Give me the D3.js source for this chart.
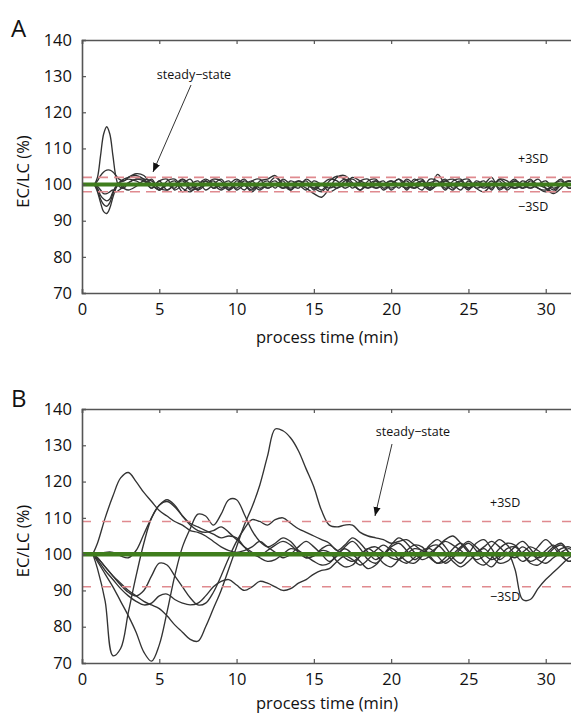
<!DOCTYPE html>
<html><head><meta charset="utf-8">
<script src="https://cdn.jsdelivr.net/npm/d3@7/dist/d3.min.js"></script>
<style>body{margin:0;background:#fff}svg{display:block}text{font-family:"Open Sans",sans-serif;fill:#111}</style>
</head><body>
<svg id="c" width="571" height="713"></svg>
<script>
// ---------- data ----------
const xTicks = [0,5,10,15,20,25,30];
const yTicks = [70,80,90,100,110,120,130,140];
const target = 100;
const sdA = [98, 102];
const sdB = [91, 109];

const tA = [0.8,1.0,1.2,1.4,1.6,1.8,2.0,2.2,2.4,2.7,3.0,3.5,
  4,4.5,5,5.5,6,6.5,7,7.5,8,8.5,
  9,9.5,10,10.5,11,11.5,12,12.5,13,13.5,
  14,14.5,15,15.5,16,16.5,17,17.5,18,18.5,
  19,19.5,20,20.5,21,21.5,22,22.5,23,23.5,
  24,24.5,25,25.5,26,26.5,27,27.5,28,28.5,
  29,29.5,30,30.5,31,31.5,32];
const seriesA1 = [100,102,108,114,116,114,108,102,99.5,99,100.5,101.5,
  101,99,101,98.5,100,101.5,99,100,101,99,
  100,101,98.5,100,101,99,100,102,100,99,
  100,101,98.5,100,101.5,101,99,100,100.5,99,
  101,100,99,100,101,99,100,100.5,101,99,
  100,101,99,100.5,99.5,101,99,100,101,100,
  99,100,101,99,100,101,100];
const seriesA2 = [100,101,102.5,103.5,104,104,103.5,102.5,101.5,101,102,103,
  102.5,100,98.5,101,101.5,99,98,100,101.5,100,
  98.5,100,101.5,100,98.5,101,101.5,102.5,100,98.5,
  100,99,97.5,96.5,99,102,102.5,100.5,98.5,101,
  101.5,99,100,101.5,98.5,101,101.5,99,102.8,100,
  98.5,101,101.5,99,100,102,98.5,100,101.5,99,
  100,101.5,99,97.5,99,101,100];
const seriesA3 = [100,98,95,92.5,92,93.5,96.5,99,100.5,101.5,102,102.5,
  101.5,99,101,101.5,98.5,100,101.5,98.5,100,101.5,
  101,98.5,100,101.5,99,100,101,99,101.5,100,
  99,101.5,100,98.5,101,102.3,101.5,99,101,101.5,
  99,100,101,99,101.5,100,98.5,101.5,101,98.5,
  101,101.5,99,100,101,98.5,101.5,101,99,100,
  101.5,99,98.5,100,101.5,99,100];
const seriesA4 = [100,98.5,96,94.5,94,95,97.5,99.5,100.5,101,101.5,101,
  100,101.5,98.5,100,101,98,100,101,98.5,100,
  101.5,99,100,98.5,101,101.5,99,100,99,101,
  100,98.5,101,100,99,100,101.5,100,98.5,100,
  101,98.5,100,101.5,100,99,101,99,100,101.5,
  99,100,98.5,101,100,99,101.5,100,99,101,
  100,99,98,100,101,99,100];
const seriesA5 = [100,99,97,96,95.5,96,98,99.5,100,99,98.5,99.5,
  101,100,98.5,100,99,101.5,100,98.5,101,99,
  100,98.5,101,100,98,100,99,100,101,98.5,
  101,100,99,98,100,99,101,101.5,100,99,
  100,101,98.5,100,99,101.5,100,98.5,100,101,
  100,98.5,101,99,98,100,101,98.5,100,99,
  101,100,99,98,100,101,100];
const seriesA6 = [100,99.5,98.5,97.5,97.5,98,98.5,98,98.5,99.5,100.5,101.5,
  101.5,101,99,98.5,100,101,98.5,99,100,101,
  99,100,99,101,100,98.5,100,101,99,100,
  101,100,99,100,98,99,100,102,101,100,
  99,100,101,100,99,100,101,98.5,100,101,
  101.5,100,99,100,99,100,100,99,101,100,
  99,100,100,98.5,100,100,100];

const tB = [0.7,
  1,1.5,2,2.5,3,3.5,4,4.5,5,5.5,
  6,6.5,7,7.5,8,8.5,9,9.5,10,10.5,
  11,11.5,12,12.5,13,13.5,14,14.5,15,15.5,
  16,16.5,17,17.5,18,18.5,19,19.5,20,20.5,
  21,21.5,22,22.5,23,23.5,24,24.5,25,25.5,
  26,26.5,27,27.5,28,28.5,29,29.5,30,30.5,
  31,31.5,32];
const seriesB1 = [100,
  103,110,116,121,122.5,120,117,114.5,112,110.5,
  109,108,106.5,106,105,103.5,102,101,100.5,101,
  102,103.5,102,100.5,99,100,102,103.5,102,100,
  98,99.5,102,103.5,101.5,98.5,97.5,99.5,102,103,
  101,98.5,100,102.5,104,102,99,97.5,100,103,
  104,101.5,98.5,100,102,103.5,101.5,99,100,102,
  103,100.5,99];
const seriesB2 = [100,
  99,96.5,94,92,90,88.5,87,86,85,83,
  80.5,78.5,76.5,76,80,85,90,96,102,108,
  113,119,127,134.5,134,132,128.5,123.5,118.5,112,
  108,107.5,108,108,106,105,104.5,104,103,103.5,
  104,102.5,101,100.5,102,103.5,102.5,101,99.5,100.5,
  102,103.5,102,100,99,100.5,102,101,99.5,100,
  101.5,102,100.5];
const seriesB3 = [100,
  96,87,72,74,84,94,103,110,113.5,114.5,
  113,110.5,108,106.5,106,106.5,107.5,106,104,102,
  100.5,99,98,98.5,100,101.5,101,99.5,98,97,
  97.5,100,101.5,100,98,96,97,99.5,101.5,100,
  98,97.5,99.5,102,102.5,100.5,98,96.5,98,100,
  101.5,99.5,97.5,98,100,102,100.5,98.5,97.5,99,
  100.5,101.5,100];
const seriesB4 = [100,
  98,94.5,91,87,83,78.5,73,70.5,75,84,
  94,102,107,111,110.5,108,111,115,115,111,
  106.5,103.5,102,103,104.5,103.5,101,99,99.5,101.5,
  102.5,101,99,98,99.5,101.5,102,100.5,99,98.5,
  100,101.5,101,99,97.5,98,100,102,103.5,102,
  100,98.5,99.5,100.5,96,87.5,87.5,90.5,93,95,
  97,99,100];
const seriesB5 = [100,
  98.5,95.5,93,90.5,88.5,87,86,86.5,88.5,89,
  87.5,86.5,86,86.5,88.5,91,92.5,93,91.5,90,
  91,92.5,92,91,90,90.5,92,93,94.5,95.5,
  96,98,99.5,98.5,97,98.5,101,102.5,101,98.5,
  97.5,99,101,101.5,99.5,97.5,99,101.5,103,101,
  98,96.5,99,101.5,102,100,98,99,101,102.5,
  100,98,99];
const seriesB6 = [100,
  99,96.5,94,91.5,89.5,88.5,90,94,97.5,97,
  94,91,88,86,86.5,89.5,94,99,103.5,107,
  109.5,109,108,109.5,110,108.5,107,106,105,104,
  103,101,102.5,104.5,103,100.5,98.5,100,102.5,104.5,
  103,100.5,98.5,99.5,102,104,105,103,100.5,98.5,
  99.5,102,104,102.5,100,98,99.5,102,104,102,
  99.5,98,99.5];
const seriesB7 = [100,
  100,100.5,100.5,99.5,99,101,105.5,110,113.5,115,
  113.5,110.5,108.5,107.5,106.5,105.5,104.5,105,104.5,102,
  100,99.5,101,102.5,103.5,102.5,100.5,99,99.5,101,
  100.5,98,96.5,97,99.5,101.5,100,97.5,96.5,98.5,
  101,102.5,102,99.5,97.5,99,101.5,103,101,98,
  97,99,101.5,103,102.5,100,97.5,97,99,101.5,
  102.5,100.5,99];

const panelsData = [
  {label:"A", t:tA, series:[seriesA1,seriesA2,seriesA3,seriesA4,seriesA5,seriesA6], sd:sdA},
  {label:"B", t:tB, series:[seriesB1,seriesB2,seriesB3,seriesB4,seriesB5,seriesB6,seriesB7], sd:sdB}
];

// ---------- layout ----------
const layout = [
  {top:40, bottom:293, dash:"10,6", green:4,
   ss:{tx:194, ty:79, x1:191, y1:85, x2:153, y2:172},
   plus:{x:518, y:163}, minus:{x:518, y:211}, labelY:37, titleY:343},
  {top:409, bottom:663, dash:"9,11", green:4.5,
   ss:{tx:413, ty:436, x1:392, y1:444, x2:375, y2:516},
   plus:{x:490, y:507}, minus:{x:490, y:601}, labelY:407, titleY:709}
];
const left = 82, right = 572;

const svg = d3.select("#c");
const defs = svg.append("defs");
defs.append("marker").attr("id","ah").attr("viewBox","0 0 10 10")
  .attr("refX",10).attr("refY",5).attr("markerWidth",9).attr("markerHeight",9)
  .attr("markerUnits","userSpaceOnUse").attr("orient","auto")
  .append("path").attr("d","M0,1 L10,5 L0,9 Z").attr("fill","#111");

panelsData.forEach((p,i)=>{
  const L = layout[i];
  const x = d3.scaleLinear().domain([0,31.7]).range([left,right]);
  const y = d3.scaleLinear().domain([70,140]).range([L.bottom,L.top]);
  const g = svg.append("g");
  const clipId = "clip"+i;
  defs.append("clipPath").attr("id",clipId).append("rect")
    .attr("x",left).attr("y",L.top).attr("width",right-left).attr("height",L.bottom-L.top);

  const plot = g.append("g").attr("clip-path",`url(#${clipId})`);
  const line = d3.line().x((d)=>x(d[0])).y(d=>y(d[1])).curve(d3.curveCatmullRom.alpha(0.5));
  p.series.forEach(s=>{
    const pts = p.t.map((t,k)=>[t,s[k]]);
    plot.append("path").attr("d",line(pts)).attr("fill","none")
      .attr("stroke","#333").attr("stroke-width",1.35);
  });
  p.sd.forEach(v=>{
    plot.append("line").attr("x1",left).attr("x2",right).attr("y1",y(v)).attr("y2",y(v))
      .attr("stroke","#e08a8f").attr("stroke-width",1.6).attr("stroke-dasharray",L.dash);
  });
  plot.append("line").attr("x1",x(0)).attr("x2",right).attr("y1",y(target)).attr("y2",y(target))
    .attr("stroke","#3f7d1c").attr("stroke-width",L.green);

  // axes
  const axisColor = "#555";
  const xb = d3.axisBottom(x).tickValues(xTicks).tickSize(-4).tickPadding(10);
  const xt = d3.axisTop(x).tickValues(xTicks).tickSize(-4).tickFormat("");
  const yl = d3.axisLeft(y).tickValues(yTicks).tickSize(-4).tickPadding(10);
  const gb = g.append("g").attr("transform",`translate(0,${L.bottom})`).call(xb);
  const gt = g.append("g").attr("transform",`translate(0,${L.top})`).call(xt);
  const gl = g.append("g").attr("transform",`translate(${left},0)`).call(yl);
  [gb,gt,gl].forEach(a=>{
    a.select(".domain").attr("stroke",axisColor).attr("stroke-width",1.6);
    a.selectAll(".tick line").attr("stroke",axisColor).attr("stroke-width",1.2);
    a.selectAll(".tick text").attr("font-size",16.5).attr("fill","#111")
      .attr("font-family","'Open Sans',sans-serif");
  });
  gb.selectAll(".tick text").attr("dy","0.71em");

  // texts
  g.append("text").attr("x",11).attr("y",L.labelY).attr("font-size",24).text(p.label);
  g.append("text").attr("transform",`translate(29,${(L.top+L.bottom)/2+5}) rotate(-90)`)
    .attr("text-anchor","middle").attr("font-size",16.5).text("EC/LC (%)");
  g.append("text").attr("x",(left+right)/2).attr("y",L.titleY).attr("text-anchor","middle")
    .attr("font-size",16.5).text("process time (min)");
  g.append("text").attr("x",L.ss.tx).attr("y",L.ss.ty).attr("text-anchor","middle")
    .attr("font-size",12.5).attr("fill","#222").text("steady\u2212state");
  g.append("line").attr("x1",L.ss.x1).attr("y1",L.ss.y1).attr("x2",L.ss.x2).attr("y2",L.ss.y2)
    .attr("stroke","#333").attr("stroke-width",1).attr("marker-end","url(#ah)");
  g.append("text").attr("x",L.plus.x).attr("y",L.plus.y).attr("font-size",12.5).attr("fill","#222").text("+3SD");
  g.append("text").attr("x",L.minus.x).attr("y",L.minus.y).attr("font-size",12.5).attr("fill","#222").text("\u22123SD");
});
</script>
</body></html>
